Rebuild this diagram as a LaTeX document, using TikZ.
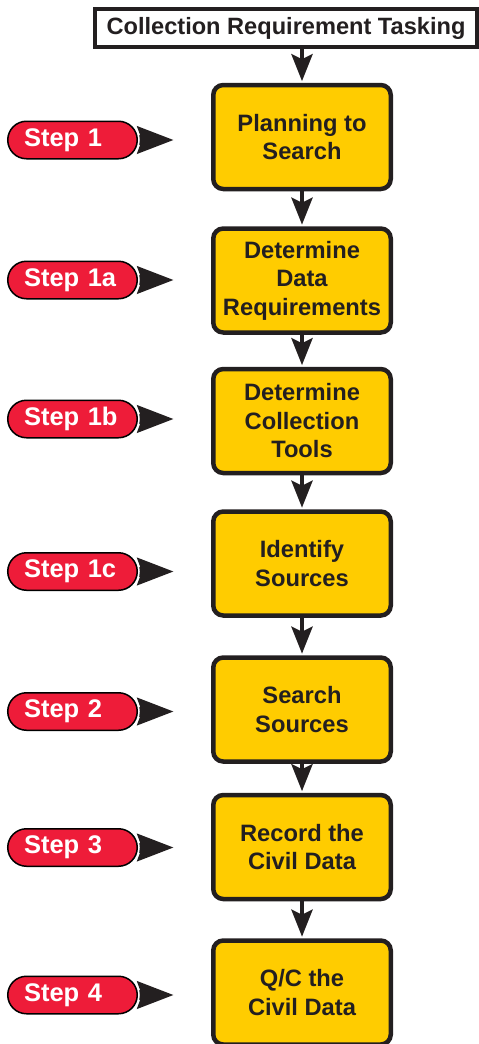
\documentclass[tikz,border=0pt]{standalone}
\usepackage{fontspec}
\setmainfont{Liberation Sans}
\usetikzlibrary{arrows.meta}
\pgfdeclarelayer{bg}
\pgfsetlayers{bg,main}

\definecolor{stepred}{HTML}{EE1C39}
\definecolor{boxyellow}{HTML}{FFCC00}
\definecolor{ink}{HTML}{231F20}

\tikzset{
  taskbox/.style={draw=ink, line width=4pt, fill=white, text=ink,
    minimum width=382pt, minimum height=38pt, inner sep=0pt,
    font=\bfseries\fontsize{23.6}{28}\selectfont},
  stagebox/.style={draw=ink, line width=4.5pt, fill=boxyellow, text=ink,
    rounded corners=10pt, minimum width=177.5pt, minimum height=104pt,
    inner sep=0pt, align=center,
    font=\bfseries\fontsize{23.7}{28.5}\selectfont},
  steppill/.style={rectangle, rounded corners=18.75pt, draw=black,
    line width=1.5pt, fill=stepred, text=white, minimum height=37.5pt,
    inner xsep=16.25pt, inner ysep=0pt, text width=97pt, align=left,
    preaction={draw=white, line width=5pt},
    font=\bfseries\fontsize{25.5}{28}\selectfont},
  flow/.style={draw=ink, line width=4.5pt,
    -{Stealth[length=27pt, width=21pt, inset=5pt]}, shorten >=1.5pt},
  pointer/.style={draw=ink, line width=10pt,
    -{Stealth[length=36pt, width=26pt, inset=4pt]}},
}

\begin{document}
\begin{tikzpicture}[x=1pt, y=-1pt]
  \useasboundingbox (0,0) rectangle (479,1044);

  % task header
  \node[taskbox] (task) at (286,28) {Collection Requirement Tasking};

  % process stages
  \node[stagebox] (b1) at (302,137)   {Planning to\\Search};
  \node[stagebox] (b2) at (302,280.5) {Determine\\Data\\Requirements};
  \node[stagebox] (b3) at (302,421)   {Determine\\Collection\\Tools};
  \node[stagebox] (b4) at (302,563.5) {Identify\\Sources};
  \node[stagebox] (b5) at (302,709.5) {Search\\Sources};
  \node[stagebox] (b6) at (302,847)   {Record the\\Civil Data};
  \node[stagebox] (b7) at (302,992.5) {Q/C the\\Civil Data};

  % step labels
  \node[steppill] (s1)  at (72.5,140)   {Step 1};
  \node[steppill] (s1a) at (72.5,280)   {Step 1a};
  \node[steppill] (s1b) at (72.5,419)   {Step 1b};
  \node[steppill] (s1c) at (72.5,571.5) {Step 1c};
  \node[steppill] (s2)  at (72.5,711.5) {Step 2};
  \node[steppill] (s3)  at (72.5,847.5) {Step 3};
  \node[steppill] (s4)  at (72.5,995)   {Step 4};

  % pointer tips
  \coordinate (t1)  at (174,140);
  \coordinate (t1a) at (174,280);
  \coordinate (t1b) at (174,419);
  \coordinate (t1c) at (174,571.5);
  \coordinate (t2)  at (174,711.5);
  \coordinate (t3)  at (174,847.5);
  \coordinate (t4)  at (174,995);

  \begin{pgfonlayer}{bg}
    \draw[flow] (b1.north |- task.south) -- (b1.north);
    \draw[flow] (b1.south) -- (b2.north);
    \draw[flow] (b2.south) -- (b3.north);
    \draw[flow] (b3.south) -- (b4.north);
    \draw[flow] (b4.south) -- (b5.north);
    \draw[flow] (b5.south) -- (b6.north);
    \draw[flow] (b6.south) -- (b7.north);

    \draw[pointer] (s1.center)  -- (t1);
    \draw[pointer] (s1a.center) -- (t1a);
    \draw[pointer] (s1b.center) -- (t1b);
    \draw[pointer] (s1c.center) -- (t1c);
    \draw[pointer] (s2.center)  -- (t2);
    \draw[pointer] (s3.center)  -- (t3);
    \draw[pointer] (s4.center)  -- (t4);
  \end{pgfonlayer}
\end{tikzpicture}
\end{document}
